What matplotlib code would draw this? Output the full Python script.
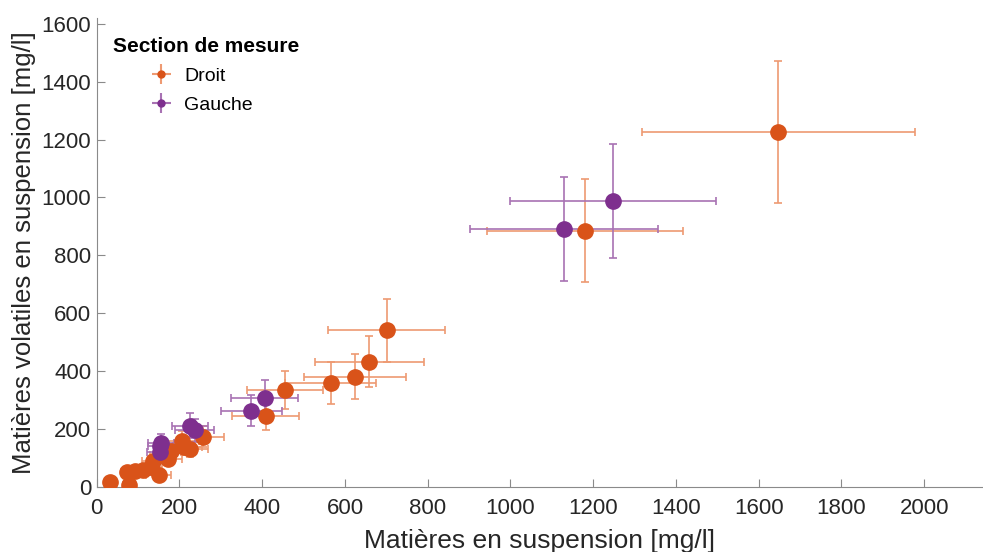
import matplotlib.pyplot as plt

plt.rcParams['font.family'] = ['Liberation Sans', 'DejaVu Sans']

# Droit (orange)
droit_x = [31, 78, 73, 93, 111, 132, 150, 137, 172, 160, 180, 207, 212, 225, 257,
           409, 454, 565, 624, 659, 701, 1180, 1647]
droit_y = [18, 7, 50, 55, 60, 68, 41, 88, 96, 112, 125, 160, 139, 130, 174,
           245, 335, 358, 381, 433, 541, 885, 1226]
droit_xerr = [6, 15, 14, 18, 22, 26, 30, 27, 34, 32, 36, 41, 42, 44, 50,
              81, 92, 109, 124, 132, 141, 236, 330]
droit_yerr = [4, 2, 10, 11, 12, 14, 8, 18, 19, 22, 25, 32, 28, 26, 35,
              48, 65, 73, 77, 87, 108, 178, 245]

# Gauche (violet)
gauche_x = [152, 154, 156, 225, 237, 374, 406, 1129, 1248]
gauche_y = [120, 140, 152, 212, 196, 264, 306, 891, 989]
gauche_xerr = [30, 30, 31, 44, 47, 74, 81, 227, 249]
gauche_yerr = [24, 28, 30, 43, 39, 53, 64, 179, 197]

orange = '#D95319'
purple = '#7E2F8E'
orange_l = '#EE9A72'
purple_l = '#A872B3'
txt = '#262626'

fig = plt.figure(figsize=(9.83, 5.52), dpi=100)
ax = fig.add_axes([0.0984, 0.1178, 0.9016, 0.8496])

ax.errorbar(droit_x, droit_y, xerr=droit_xerr, yerr=droit_yerr, fmt='none',
            ecolor=orange_l, elinewidth=1.2, capsize=3, capthick=1.2, zorder=2)
ax.errorbar(gauche_x, gauche_y, xerr=gauche_xerr, yerr=gauche_yerr, fmt='none',
            ecolor=purple_l, elinewidth=1.2, capsize=3, capthick=1.2, zorder=2)
ax.plot(droit_x, droit_y, 'o', color=orange, markersize=11, zorder=3)
ax.plot(gauche_x, gauche_y, 'o', color=purple, markersize=11, zorder=4)

ax.set_xlim(0, 2142)
ax.set_ylim(0, 1620)
ax.set_xticks(range(0, 2001, 200))
ax.set_yticks(range(0, 1601, 200))
for s in ['top', 'right']:
    ax.spines[s].set_visible(False)
for s in ['left', 'bottom']:
    ax.spines[s].set_color('#8a8a8a')
ax.tick_params(direction='in', length=6, color='#8a8a8a', labelsize=16,
               labelcolor=txt)
ax.tick_params(axis='x', pad=8)
ax.tick_params(axis='y', pad=4)

ax.set_xlabel('Matières en suspension [mg/l]', fontsize=19, color=txt, labelpad=7)
ax.set_ylabel('Matières volatiles en suspension [mg/l]', fontsize=18.5, color=txt, labelpad=4)

# legend: bold title as text, entries indented below
fig.text(113 / 983, 1 - 47 / 552, 'Section de mesure', fontsize=15,
         weight='bold', color='black', va='center', ha='left')
h1 = ax.errorbar([], [], xerr=[], yerr=[], fmt='o', color=orange, ecolor=orange_l,
                 markersize=5, capsize=2)
h2 = ax.errorbar([], [], xerr=[], yerr=[], fmt='o', color=purple, ecolor=purple_l,
                 markersize=5, capsize=2)
ax.legend([h1, h2], ['Droit', 'Gauche'], loc='upper left',
          bbox_to_anchor=(154 / 983, 1 - 67 / 552), bbox_transform=fig.transFigure,
          frameon=False, fontsize=14, borderpad=0, borderaxespad=0,
          handlelength=0.75, handletextpad=0.8, labelspacing=0.6)

fig.savefig('out.png', dpi=100)
